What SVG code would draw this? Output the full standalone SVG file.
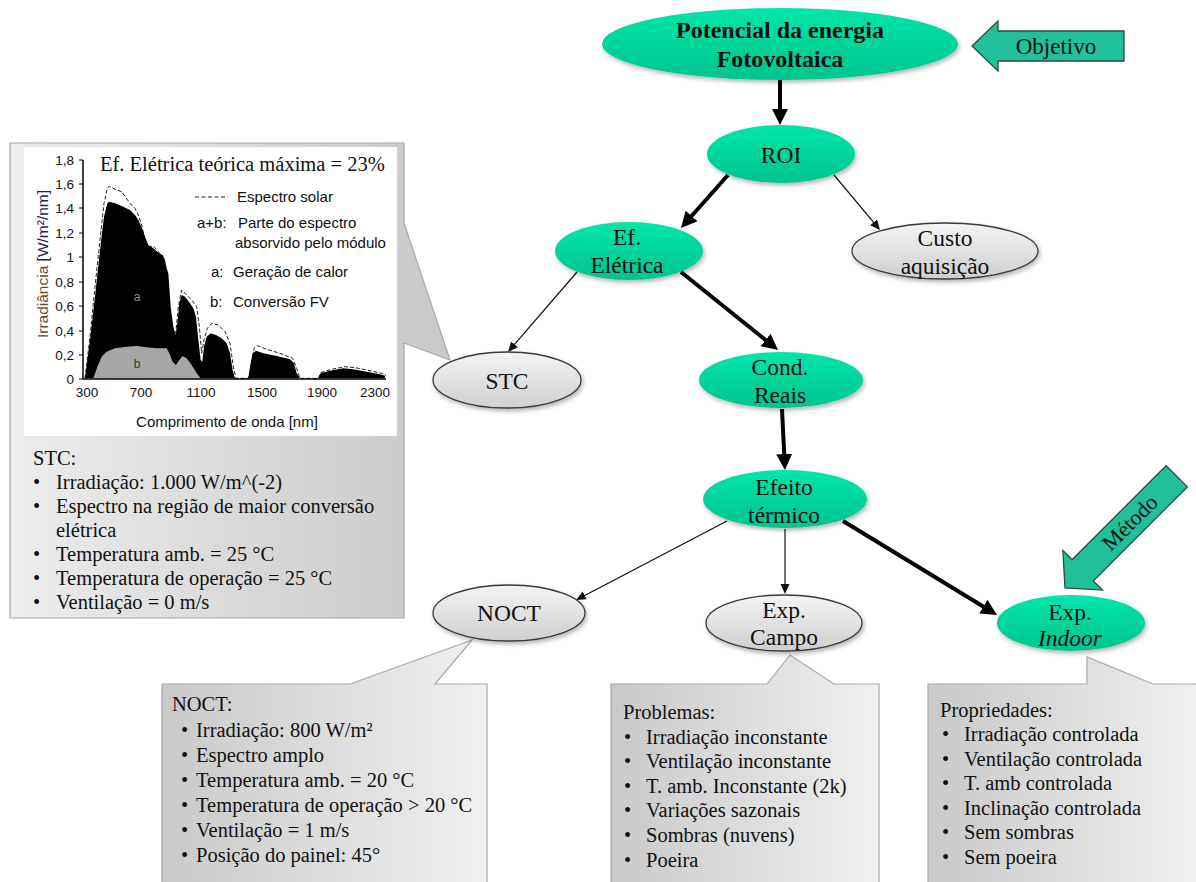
<svg xmlns="http://www.w3.org/2000/svg" width="1196" height="882" viewBox="0 0 1196 882">
<style>
.t{font-family:"Liberation Serif","Times New Roman",serif;fill:#111}
.nt{font-size:23.5px;text-anchor:middle}
.ct{font-size:20.5px}
.s{font-family:"Liberation Sans",Arial,sans-serif;fill:#111}
.tk{font-size:13.5px}
.lg{font-size:15px}
.green{fill:url(#gG);filter:url(#sh)}
.gray{fill:url(#gY);stroke:#3a3a3a;stroke-width:1.3;filter:url(#sh)}
.thick{stroke:#000;stroke-width:4;fill:none}
.thin{stroke:#111;stroke-width:1.2;fill:none}
.blk{fill:#20C09A;stroke:#2E4A40;stroke-width:1.3}
.co{stroke:#A8A8A8;stroke-width:1.2}
</style>
<defs>
<linearGradient id="gG" x1="0" y1="0" x2="0" y2="1"><stop offset="0" stop-color="#00E6AA"/><stop offset="1" stop-color="#00C48E"/></linearGradient>
<linearGradient id="gY" x1="0" y1="0" x2="0" y2="1"><stop offset="0" stop-color="#F4F4F4"/><stop offset="1" stop-color="#CFCFCF"/></linearGradient>
<linearGradient id="cL" x1="0" y1="0" x2="1" y2="0"><stop offset="0" stop-color="#EDEDED"/><stop offset="1" stop-color="#C8C8C8"/></linearGradient>
<linearGradient id="cR" x1="0" y1="0" x2="1" y2="0"><stop offset="0" stop-color="#C9C9C9"/><stop offset="1" stop-color="#F0F0F0"/></linearGradient>
<filter id="sh" x="-20%" y="-30%" width="140%" height="170%"><feDropShadow dx="1.5" dy="2.5" stdDeviation="2" flood-color="#000" flood-opacity="0.3"/></filter>
<marker id="aK" markerUnits="userSpaceOnUse" markerWidth="18" markerHeight="18" refX="8" refY="8" orient="auto"><path d="M0,0 L16,8 L0,16 z" fill="#000"/></marker>
<marker id="aT" markerUnits="userSpaceOnUse" markerWidth="12" markerHeight="12" refX="5" refY="4.5" orient="auto"><path d="M0,0 L10,4.5 L0,9 z" fill="#111"/></marker>
</defs>
<rect width="1196" height="882" fill="#fff"/>

<!-- callouts -->
<g id="callout-stc">
<path class="co" fill="url(#cL)" d="M10,143 L404,143 L404,223 L450,360 L404,343 L404,618 L10,618 Z"/>
<rect x="24" y="147" width="373" height="289" fill="#fff"/>
<g id="chart">
<g transform="translate(0,140) scale(0.333333)">
<path fill="none" stroke="#222" stroke-width="3" stroke-dasharray="12,6" d="M255,715 L270,590 L285,440 L300,300 L312,190 L322,145 L328,138 L345,148 L365,155 L390,190 L405,205 L415,225 L425,255 L435,300 L445,320 L460,318 L475,335 L490,362 L500,420 L510,520 L520,570 L527,580 L535,500 L545,450 L555,460 L575,480 L590,500 L598,560 L605,640 L612,600 L622,565 L635,550 L655,555 L675,575 L690,610 L700,680 L708,715 L745,715 L752,690 L762,625 L772,617 L800,628 L840,640 L878,655 L890,685 L900,715 L955,715 L962,698 L995,688 L1035,680 L1065,683 L1100,690 L1145,700 L1158,706"/>
<path fill="#000" d="M255,715 L270,600 L285,470 L300,330 L312,230 L322,190 L328,185 L345,190 L365,198 L390,210 L405,225 L415,240 L425,262 L435,290 L445,315 L460,325 L475,338 L488,345 L495,360 L500,385 L505,400 L512,500 L520,560 L527,585 L533,540 L538,490 L545,465 L555,470 L570,490 L580,505 L588,530 L595,600 L602,660 L607,665 L612,620 L620,590 L632,580 L648,585 L665,595 L680,610 L690,640 L698,690 L705,715 L745,715 L750,680 L758,640 L768,632 L790,640 L830,648 L870,658 L882,670 L890,700 L900,715 L955,715 L962,700 L990,692 L1030,685 L1060,688 L1100,695 L1140,703 L1155,707 L1155,715 Z"/>
<path fill="#A6A6A6" d="M280,715 L292,680 L305,650 L320,635 L345,625 L380,620 L410,618 L440,622 L470,625 L500,625 L508,640 L518,665 L528,675 L538,660 L548,648 L560,655 L575,675 L590,700 L602,715 Z"/>
</g>
<g stroke="#000" stroke-width="1.5">
<line x1="83" y1="160" x2="83" y2="379"/>
<line x1="83" y1="379" x2="386" y2="379"/>
</g>
<g stroke="#000" stroke-width="1">
<path d="M79,160H83M79,184H83M79,208H83M79,233H83M79,257H83M79,282H83M79,306H83M79,331H83M79,355H83M79,379H83"/>
</g>
<g class="s tk" text-anchor="end">
<text x="74" y="165">1,8</text><text x="74" y="189">1,6</text><text x="74" y="213">1,4</text><text x="74" y="238">1,2</text><text x="74" y="262">1</text><text x="74" y="287">0,8</text><text x="74" y="311">0,6</text><text x="74" y="336">0,4</text><text x="74" y="360">0,2</text><text x="74" y="384">0</text>
</g>
<g class="s tk" text-anchor="middle">
<text x="87" y="397">300</text><text x="141" y="397">700</text><text x="201" y="397">1100</text><text x="262" y="397">1500</text><text x="322" y="397">1900</text><text x="375" y="397">2300</text>
</g>
<text class="s" font-size="15.5" text-anchor="middle" transform="translate(48,264) rotate(-90)"><tspan fill="#6B4A2A">Irradiância</tspan><tspan fill="#1F2550"> [W/m²/nm]</tspan></text>
<text class="s lg" x="227" y="427" text-anchor="middle">Comprimento de onda [nm]</text>
<text class="t" font-size="20.5" x="100" y="171">Ef. Elétrica teórica máxima = 23%</text>
<line x1="195" y1="197" x2="228" y2="197" stroke="#222" stroke-width="1" stroke-dasharray="4,2.5"/>
<g class="s lg">
<text x="237" y="202">Espectro solar</text>
<text x="197" y="228">a+b:</text><text x="238" y="228">Parte do espectro</text>
<text x="235" y="248">absorvido pelo módulo</text>
<text x="211" y="277">a:</text><text x="233" y="277">Geração de calor</text>
<text x="210" y="307">b:</text><text x="233" y="307">Conversão FV</text>
</g>
<text class="s" font-size="12" x="137" y="301" text-anchor="middle" style="fill:#8a8a8a">a</text>
<text class="s" font-size="12" x="137" y="368" text-anchor="middle" style="fill:#333">b</text>
</g>
<g class="t ct">
<text x="33" y="465">STC:</text>
<text x="33" y="489">•</text><text x="56" y="489">Irradiação: 1.000 W/m^(-2)</text>
<text x="33" y="513">•</text><text x="56" y="513">Espectro na região de maior conversão</text>
<text x="56" y="537">elétrica</text>
<text x="33" y="561">•</text><text x="56" y="561">Temperatura amb. = 25 °C</text>
<text x="33" y="585">•</text><text x="56" y="585">Temperatura de operação = 25 °C</text>
<text x="33" y="609">•</text><text x="56" y="609">Ventilação = 0 m/s</text>
</g>
</g>

<g id="callout-noct">
<path class="co" fill="url(#cR)" d="M162,684 L350,684 L472,640 L435,684 L487,684 L487,892 L162,892 Z"/>
<g class="t ct">
<text x="172" y="711">NOCT:</text>
<text x="181" y="737">•</text><text x="196" y="737">Irradiação: 800 W/m²</text>
<text x="181" y="762">•</text><text x="196" y="762">Espectro amplo</text>
<text x="181" y="787">•</text><text x="196" y="787">Temperatura amb. = 20 °C</text>
<text x="181" y="812">•</text><text x="196" y="812">Temperatura de operação &gt; 20 °C</text>
<text x="181" y="837">•</text><text x="196" y="837">Ventilação = 1 m/s</text>
<text x="181" y="862">•</text><text x="196" y="862">Posição do painel: 45°</text>
</g>
</g>

<g id="callout-campo">
<path class="co" fill="url(#cR)" d="M611,684 L767,684 L790,655 L834,684 L879,684 L879,892 L611,892 Z"/>
<g class="t ct">
<text x="623" y="719">Problemas:</text>
<text x="624" y="744">•</text><text x="646" y="744">Irradiação inconstante</text>
<text x="624" y="768">•</text><text x="646" y="768">Ventilação inconstante</text>
<text x="624" y="793">•</text><text x="646" y="793">T. amb. Inconstante (2k)</text>
<text x="624" y="817">•</text><text x="646" y="817">Variações sazonais</text>
<text x="624" y="842">•</text><text x="646" y="842">Sombras (nuvens)</text>
<text x="624" y="867">•</text><text x="646" y="867">Poeira</text>
</g>
</g>

<g id="callout-indoor">
<path class="co" fill="url(#cR)" d="M928,684 L1087,684 L1087,657 L1153,684 L1200,684 L1200,892 L928,892 Z"/>
<g class="t ct">
<text x="940" y="717">Propriedades:</text>
<text x="942" y="741">•</text><text x="964" y="741">Irradiação controlada</text>
<text x="942" y="766">•</text><text x="964" y="766">Ventilação controlada</text>
<text x="942" y="790">•</text><text x="964" y="790">T. amb controlada</text>
<text x="942" y="815">•</text><text x="964" y="815">Inclinação controlada</text>
<text x="942" y="839">•</text><text x="964" y="839">Sem sombras</text>
<text x="942" y="864">•</text><text x="964" y="864">Sem poeira</text>
</g>
</g>

<!-- connectors -->
<g id="connectors">
<line class="thick" x1="780" y1="78" x2="780" y2="117" marker-end="url(#aK)"/>
<line class="thick" x1="728" y1="175" x2="686.3" y2="222" marker-end="url(#aK)"/>
<line class="thin" x1="834" y1="175" x2="876.8" y2="226.2" marker-end="url(#aT)"/>
<line class="thin" x1="577" y1="272" x2="511.3" y2="348.2" marker-end="url(#aT)"/>
<line class="thick" x1="681" y1="272" x2="771.8" y2="345" marker-end="url(#aK)"/>
<line class="thick" x1="782" y1="409" x2="784.6" y2="462" marker-end="url(#aK)"/>
<line class="thin" x1="727" y1="521" x2="580.4" y2="597.7" marker-end="url(#aT)"/>
<line class="thin" x1="785" y1="529" x2="785" y2="589" marker-end="url(#aT)"/>
<line class="thick" x1="843" y1="521" x2="990.2" y2="610.8" marker-end="url(#aK)"/>
</g>

<!-- nodes -->
<g id="n-potencial">
<ellipse class="green" cx="780" cy="44" rx="178" ry="36"/>
<text class="t" font-size="24" font-weight="bold" text-anchor="middle" x="780" y="38">Potencial da energia</text>
<text class="t" font-size="24" font-weight="bold" text-anchor="middle" x="780" y="67">Fotovoltaica</text>
</g>
<g id="n-roi">
<ellipse class="green" cx="781" cy="154" rx="74" ry="29"/>
<text class="t nt" x="781" y="163">ROI</text>
</g>
<g id="n-ef">
<ellipse class="green" cx="629" cy="251" rx="74" ry="29"/>
<text class="t nt" x="627" y="245">Ef.</text>
<text class="t nt" x="627" y="273">Elétrica</text>
</g>
<g id="n-custo">
<ellipse class="gray" cx="945" cy="251" rx="93" ry="28"/>
<text class="t nt" x="945" y="246">Custo</text>
<text class="t nt" x="945" y="274">aquisição</text>
</g>
<g id="n-stc">
<ellipse class="gray" cx="507" cy="380" rx="74" ry="28"/>
<text class="t nt" x="507" y="389">STC</text>
</g>
<g id="n-cond">
<ellipse class="green" cx="781" cy="380" rx="82" ry="28"/>
<text class="t nt" x="780" y="375">Cond.</text>
<text class="t nt" x="780" y="403">Reais</text>
</g>
<g id="n-efeito">
<ellipse class="green" cx="785" cy="499" rx="82" ry="29"/>
<text class="t nt" x="784" y="495">Efeito</text>
<text class="t nt" x="784" y="523">térmico</text>
</g>
<g id="n-noct">
<ellipse class="gray" cx="509" cy="613" rx="76" ry="28"/>
<text class="t nt" x="509" y="621">NOCT</text>
</g>
<g id="n-campo">
<ellipse class="gray" cx="784" cy="623" rx="78" ry="28"/>
<text class="t nt" x="784" y="618">Exp.</text>
<text class="t nt" x="784" y="645">Campo</text>
</g>
<g id="n-indoor">
<ellipse class="green" cx="1071" cy="623" rx="74" ry="28"/>
<text class="t nt" x="1070" y="620">Exp.</text>
<text class="t nt" x="1070" y="646" font-style="italic">Indoor</text>
</g>

<g id="objetivo">
<polygon class="blk" points="972,46 998,21 998,31 1124,31 1124,61 998,61 998,71"/>
<text class="t" font-size="23" text-anchor="middle" x="1056" y="54">Objetivo</text>
</g>
<g id="metodo" transform="translate(1065,588) rotate(-45)">
<polygon class="blk" points="0,0 25,-28 25,-15 158,-15 158,15 25,15 25,28"/>
<text class="t" font-size="22" text-anchor="middle" x="92" y="7">Método</text>
</g>
</svg>
